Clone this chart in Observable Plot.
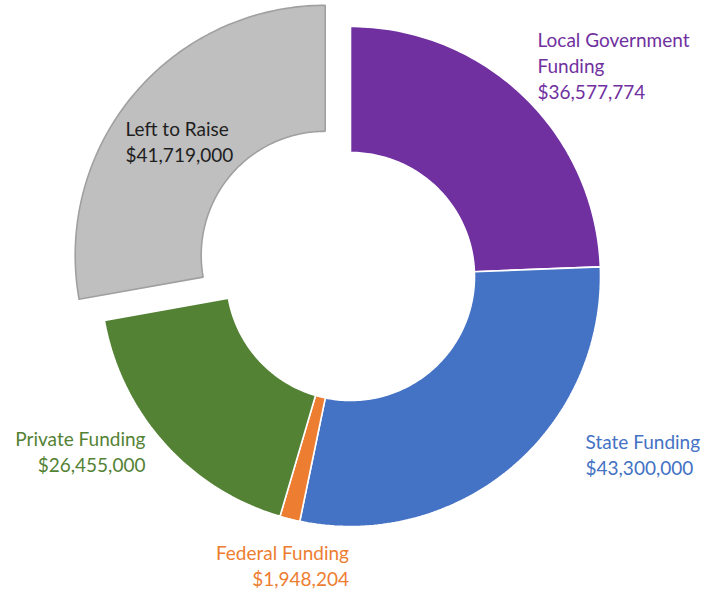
<!DOCTYPE html>
<html>
<head>
<meta charset="utf-8">
<script src="https://cdn.jsdelivr.net/npm/d3@7"></script>
<script src="https://cdn.jsdelivr.net/npm/@observablehq/plot@0.6"></script>
<style>
  html, body { margin: 0; padding: 0; background: #ffffff; }
</style>
</head>
<body>
<div id="chart"></div>
<script>
// ---- data ----
const categories = ["Local Government Funding", "State Funding", "Federal Funding", "Private Funding", "Left to Raise"];
const labelTitles = ["Local Government\nFunding", "State Funding", "Federal Funding", "Private Funding", "Left to Raise"];
const amounts = [36577774, 43300000, 1948204, 26455000, 41719000];
const explodedCategory = "Left to Raise";

// ---- styles ----
const sliceColors = ["#7030A0", "#4472C4", "#ED7D31", "#548235", "#BFBFBF"];
const sliceStrokes = ["#ffffff", "#ffffff", "#ffffff", "#ffffff", "#a0a0a0"];
const labelColors = ["#7030A0", "#4472C4", "#ED7D31", "#548235", "#1e1e1e"];

// ---- layout (units of outer radius; centre at 0,0) ----
const outerR = 1, innerR = 0.496, explodeDist = 0.132;
const labelLayout = [
  {x: 0.748, y: 0.848, anchor: "start"},
  {x: 0.94, y: -0.708, anchor: "start"},
  {x: -0.006, y: -1.152, anchor: "end"},
  {x: -0.82, y: -0.696, anchor: "end"},
  {x: -0.9, y: 0.544, anchor: "start"}
];

const fmt = d3.format("$,.0f");
const arcs = d3.pie().sort(null).startAngle(0).endAngle(2 * Math.PI)(amounts);

const points = [];
arcs.forEach((a, i) => {
  const name = categories[i];
  const mid = (a.startAngle + a.endAngle) / 2;
  const off = name === explodedCategory ? explodeDist : 0;
  const ox = off * Math.sin(mid), oy = off * Math.cos(mid);
  const n = Math.max(2, Math.ceil((a.endAngle - a.startAngle) / (2 * Math.PI) * 360));
  const ring = [];
  for (let k = 0; k <= n; k++) {
    const t = a.startAngle + (a.endAngle - a.startAngle) * k / n;
    ring.push({x: ox + outerR * Math.sin(t), y: oy + outerR * Math.cos(t)});
  }
  for (let k = n; k >= 0; k--) {
    const t = a.startAngle + (a.endAngle - a.startAngle) * k / n;
    ring.push({x: ox + innerR * Math.sin(t), y: oy + innerR * Math.cos(t)});
  }
  ring.push(ring[0]);
  ring.forEach(p => points.push({...p, name, fill: sliceColors[i], stroke: sliceStrokes[i]}));
});

const labels = categories.map((c, i) => ({
  name: c,
  text: labelTitles[i] + "\n" + fmt(amounts[i]),
  x: labelLayout[i].x,
  y: labelLayout[i].y,
  anchor: labelLayout[i].anchor,
  color: labelColors[i]
}));

const chart = Plot.plot({
  width: 702,
  height: 592,
  margin: 0,
  style: {background: "#ffffff", fontFamily: "Lato, 'Open Sans', sans-serif"},
  x: {domain: [-1.4, 1.408], axis: null},
  y: {domain: [-1.264, 1.104], axis: null},
  color: {type: "identity"},
  marks: [
    Plot.line(points, {x: "x", y: "y", z: "name", fill: "fill", stroke: "stroke", strokeWidth: 1.6, curve: "linear", strokeLinejoin: "miter"}),
    Plot.text(labels.filter(d => d.anchor === "start"), {x: "x", y: "y", text: "text", fill: "color", textAnchor: "start", lineAnchor: "middle", fontSize: 19, lineHeight: 1.37}),
    Plot.text(labels.filter(d => d.anchor === "end"), {x: "x", y: "y", text: "text", fill: "color", textAnchor: "end", lineAnchor: "middle", fontSize: 19, lineHeight: 1.37})
  ]
});
document.getElementById("chart").appendChild(chart);
</script>
</body>
</html>
